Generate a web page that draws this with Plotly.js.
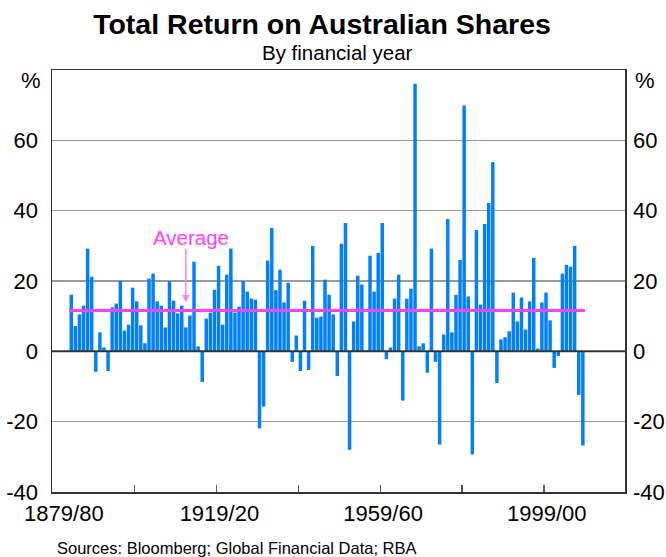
<!DOCTYPE html>
<html><head><meta charset="utf-8">
<script src="https://cdn.plot.ly/plotly-3.0.1.min.js"></script>
<style>html,body{margin:0;padding:0;background:#fff}#chart{width:666px;height:557px}</style>
</head><body><div id="chart"></div>
<script>
// Financial years (start year, e.g. 1883 = 1883/84)
const years = [1883,1884,1885,1886,1887,1888,1889,1890,1891,1892,1893,1894,1895,1896,1897,1898,1899,
1900,1901,1902,1903,1904,1905,1906,1907,1908,1909,1910,1911,1912,1913,1914,1915,1916,1917,1918,1919,
1920,1921,1922,1923,1924,1925,1926,1927,1928,1929,1930,1931,1932,1933,1934,1935,1936,1937,1938,1939,
1940,1941,1942,1943,1944,1945,1946,1947,1948,1949,1950,1951,1952,1953,1954,1955,1956,1957,1958,1959,
1960,1961,1962,1963,1964,1965,1966,1967,1968,1969,1970,1971,1972,1973,1974,1975,1976,1977,1978,1979,
1980,1981,1982,1983,1984,1985,1986,1987,1988,1989,1990,1991,1992,1993,1994,1995,1996,1997,1998,1999,
2000,2001,2002,2003,2004,2005,2006,2007,2008];
// Total return, per cent
const returns = [16.1,7.2,10.5,13.0,29.2,21.2,-5.8,5.4,1.1,-5.6,12.5,13.6,20.0,5.9,7.6,18.1,14.2,
7.4,2.3,20.7,22.1,14.2,13.0,6.8,20.0,14.4,10.8,13.0,6.8,10.2,25.5,1.4,-8.7,9.3,11.0,17.5,24.3,
7.6,21.8,29.2,11.0,12.7,20.0,17.0,15.0,14.7,-21.9,-15.7,25.8,35.1,17.4,23.2,13.9,19.5,-3.0,4.5,-5.6,
14.4,-5.3,30.0,9.6,9.9,20.4,16.1,10.5,-7.0,30.6,36.5,-28.0,8.5,21.5,19.0,0.3,27.2,17.0,28.0,36.5,
-2.2,1.1,15.0,21.8,-14.0,15.0,17.8,76.1,1.4,2.3,-6.1,29.2,-3.0,-26.5,4.8,37.6,5.4,16.1,26.0,69.9,
15.6,-29.3,34.5,13.3,36.2,42.2,53.8,-9.0,3.4,4.0,5.7,16.7,8.5,15.3,6.2,14.2,26.6,0.8,13.9,16.7,
8.8,-4.7,-1.3,22.1,24.6,24.1,30.0,-12.4,-26.8];
const averageReturn = 11.6;
const xTickLabels = ['1879/80','1919/20','1959/60','1999/00'];
const yTickVals = [-40,-20,0,20,40,60];
const yTickText = ['-40','-20','0','20','40','60'];

const REG = '"Liberation Sans", Arial, sans-serif';
const xr = [1878.3, 2018.3];
const labelPos = [1881.2, 1919.2, 1959.2, 1999.2];
const tickMarks = [1898.5, 1918.5, 1938.5, 1958.5, 1978.5, 1998.5];

const traces = [
  {type:'bar', x:years, y:returns, marker:{color:'#0080FF', line:{width:0}}, xaxis:'x', yaxis:'y', hoverinfo:'skip'},
  {type:'scatter', mode:'lines', x:[years[0]-0.5, years[years.length-1]+0.5], y:[averageReturn, averageReturn],
   line:{color:'#FF40FF', width:3}, xaxis:'x2', yaxis:'y2', hoverinfo:'skip'}
];

const tickFont = {family:REG, size:22, color:'#000'};
const layout = {
  width:666, height:557, margin:{l:52, r:41, t:70, b:65},
  paper_bgcolor:'#fff', plot_bgcolor:'#fff', showlegend:false, bargap:0.15,
  title:{text:'Total Return on Australian Shares', font:{family:REG, size:28.5, color:'#000', weight:700},
         xref:'container', x:322/666, xanchor:'center', yref:'container', y:1-24/557, yanchor:'middle'},
  xaxis:{range:xr, autorange:false, tickvals:tickMarks, ticktext:tickMarks.map(()=>''), ticks:'inside', ticklen:7,
         tickwidth:1.5, tickcolor:'#555', showgrid:false, zeroline:false, showline:true, linecolor:'#333',
         linewidth:1.5, mirror:true, fixedrange:true},
  xaxis2:{overlaying:'x', side:'bottom', anchor:'y', range:xr, autorange:false, tickvals:labelPos, ticktext:xTickLabels,
          ticks:'', showgrid:false, zeroline:false, showline:false, tickfont:tickFont, ticklabelstandoff:6},
  yaxis:{range:[-40,80], autorange:false, tickvals:yTickVals, ticktext:yTickText, ticks:'', showgrid:true,
         gridcolor:'#999', gridwidth:1.5, zeroline:false, showline:true, linecolor:'#333', linewidth:1.5,
         mirror:true, tickfont:tickFont, ticklabelstandoff:8},
  yaxis2:{overlaying:'y', side:'right', anchor:'x', range:[-40,80], autorange:false, tickvals:yTickVals,
          ticktext:yTickText, ticks:'', showgrid:false, zeroline:false, showline:false, tickfont:tickFont,
          ticklabelstandoff:7},
  shapes:[{type:'line', xref:'paper', x0:0, x1:1, yref:'y', y0:0, y1:0, line:{color:'#333', width:2}, layer:'above'}],
  annotations:[
    {text:'By financial year', xref:'paper', x:(337-52)/573, xanchor:'center', yref:'paper', y:(492.3-52)/422.3,
     yanchor:'middle', showarrow:false, font:{family:REG, size:20.5, color:'#000'}},
    {text:'%', xref:'paper', x:-9.5/573, xanchor:'right', yref:'y', y:77, yanchor:'middle', showarrow:false, font:tickFont},
    {text:'%', xref:'paper', x:1+8/573, xanchor:'left', yref:'y', y:77, yanchor:'middle', showarrow:false, font:tickFont},
    {text:'Average', xref:'x', x:1912.3, xanchor:'center', yref:'y', y:32.4, yanchor:'middle', showarrow:false,
     font:{family:REG, size:20.5, color:'#FF40FF'}},
    {text:'', xref:'x', x:1911.0, yref:'y', y:13.9, axref:'x', ax:1911.0, ayref:'y', ay:29.5, showarrow:true,
     arrowhead:2, arrowsize:1, arrowwidth:1.5, arrowcolor:'#FF80FF'},
    {text:'Sources: Bloomberg; Global Financial Data; RBA', xref:'paper', x:3/573, xanchor:'left', yref:'paper',
     y:(492.3-548)/422.3, yanchor:'middle', showarrow:false, font:{family:REG, size:16.5, color:'#000'}}
  ]
};
Plotly.newPlot('chart', traces, layout, {staticPlot:true, displayModeBar:false});
</script></body></html>
